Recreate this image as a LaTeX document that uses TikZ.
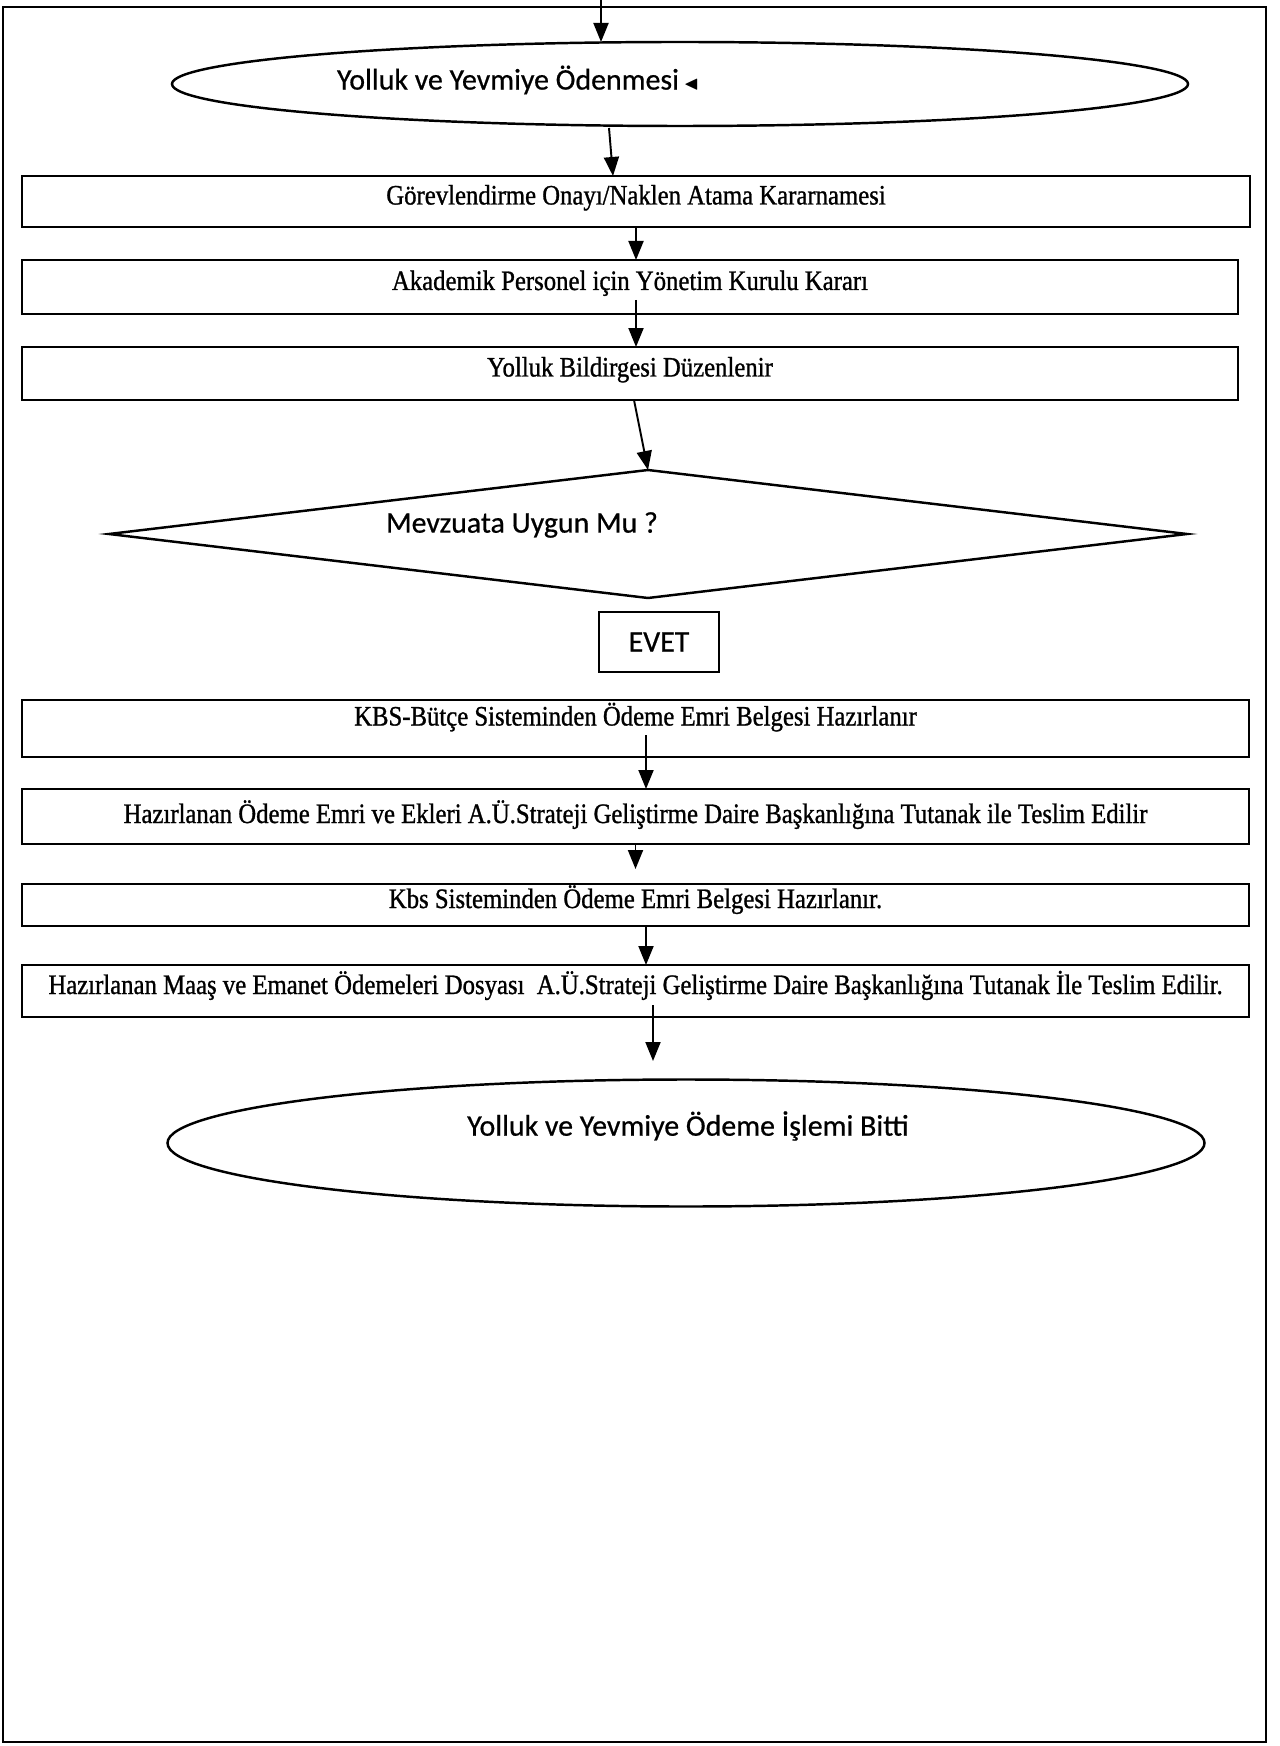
\documentclass[tikz,border=0pt]{standalone}
\usepackage{amssymb}
\usepackage{fontspec}
\usepackage{tikz}
\usetikzlibrary{arrows.meta,positioning,shapes.geometric,calc}
\newfontfamily\boxfont{Liberation Serif}[FakeStretch=0.88,FakeBold=1]
\newfontfamily\ovalfont{Carlito}[FakeBold=0.6]
\tikzset{
  stepbox/.style={draw,line width=1.2pt,outer sep=0pt,inner ysep=0pt,align=center,
    text height=0.3cm,text depth=0.18cm,font=\boxfont\fontsize{16}{18}\selectfont},
  terminal/.style={draw,ellipse,line width=1.4pt,outer sep=0pt},
  decision/.style={draw,diamond,line width=1.4pt,outer sep=0pt,inner sep=0pt},
  answer/.style={draw,line width=1.2pt,outer sep=0pt,font=\ovalfont\fontsize{17}{20}\selectfont},
  ovaltext/.style={inner sep=0pt,font=\ovalfont\fontsize{17}{20}\selectfont},
  size/.style 2 args={minimum width=#1*0.02cm,minimum height=#2*0.02cm},
  flow/.style={-{Triangle[length=0.38cm,width=0.3cm]},line width=1.1pt},
  frame/.style={line width=1.6pt}
}

\begin{document}
\begin{tikzpicture}[x=0.02cm,y=-0.02cm]
  \useasboundingbox (0,0) rectangle (1279,1746);
  \draw[frame] (3,7) rectangle (1266,1742);
  \coordinate (top) at (601,0);
  \node[terminal,size={1016}{84}] (start) at (680,84) {};
  \node[ovaltext] (starttxt) at (518,80) {Yolluk ve Yevmiye Ödenmesi\,{\fontsize{11}{11}\selectfont$\blacktriangleleft$}};
  \node[stepbox,size={1228}{51}] (gorev) at (636,201.5) {Görevlendirme Onayı/Naklen Atama Kararnamesi};
  \node[stepbox,size={1216}{54}] (kurul) at (630,287) {Akademik Personel için Yönetim Kurulu Kararı};
  \node[stepbox,size={1216}{53}] (bildirge) at (630,373.5) {Yolluk Bildirgesi Düzenlenir};
  \node[decision,size={1078}{128}] (mevzuat) at (648,534) {};
  \node[ovaltext] (mevzuattxt) at (522,525) {Mevzuata Uygun Mu ?};
  \node[answer,size={120}{60}] (evet) at (659,642) {EVET};
  \node[stepbox,size={1227}{57},text height=0.2cm,text depth=0.32cm] (kbs) at (635.5,728.5) {KBS-Bütçe Sisteminden Ödeme Emri Belgesi Hazırlanır};
  \node[stepbox,size={1227}{55},text height=0.35cm,text depth=0.09cm] (teslim) at (635.5,816.5) {Hazırlanan Ödeme Emri ve Ekleri A.Ü.Strateji Geliştirme Daire Başkanlığına Tutanak ile Teslim Edilir};
  \node[stepbox,size={1227}{42}] (emri) at (635.5,905) {Kbs Sisteminden Ödeme Emri Belgesi Hazırlanır.};
  \node[stepbox,size={1227}{52}] (dosya) at (635.5,991) {Hazırlanan Maaş ve Emanet Ödemeleri Dosyası\ \ A.Ü.Strateji Geliştirme Daire Başkanlığına Tutanak İle Teslim Edilir.};
  \node[terminal,size={1037}{127}] (bitti) at (686,1143) {};
  \node[ovaltext] (bittitxt) at (688,1126) {Yolluk ve Yevmiye Ödeme İşlemi Bitti};
  \draw[flow] (top) -- (top |- start.north);
  \draw[flow] ($(start.south)+(-71,2)$) -- ($(gorev.north)+(-23,0)$);
  \draw[flow] (gorev.south) -- (gorev.south |- kurul.north);
  \draw[flow] ($(kurul.south)+(6,-14)$) -- ($(bildirge.north)+(6,0)$);
  \draw[flow] ($(bildirge.south)+(4,0)$) -- (mevzuat.north);
  \draw[flow] ($(kbs.south)+(10.5,-22)$) -- ($(teslim.north)+(10.5,0)$);
  \draw[flow,shorten >=0.3cm] (teslim.south) -- (teslim.south |- emri.north);
  \draw[flow] ($(emri.south)+(10.5,0)$) -- ($(dosya.north)+(10.5,0)$);
  \draw[flow,shorten >=0.38cm] ($(dosya.south)+(17.5,-12)$) -- ($(dosya.south)+(17.5,63)$);
\end{tikzpicture}
\end{document}
